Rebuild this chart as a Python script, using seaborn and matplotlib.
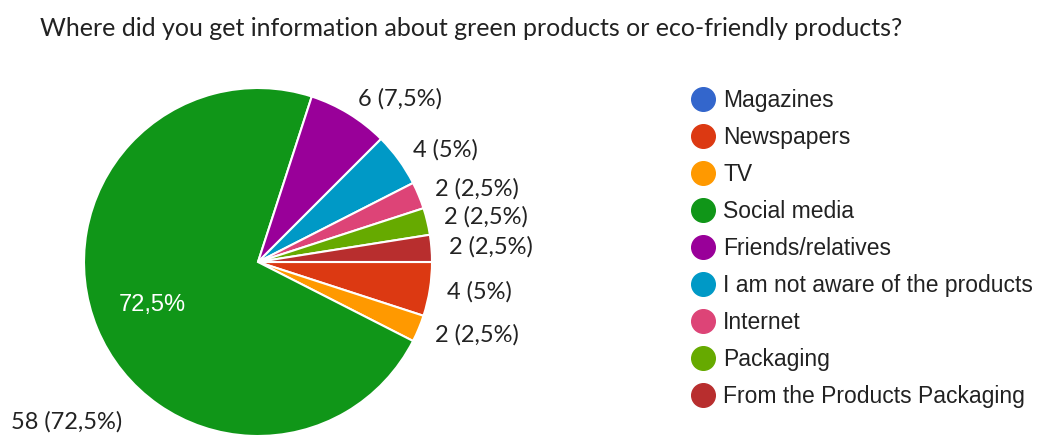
import numpy as np
import matplotlib
matplotlib.use("Agg")
import matplotlib.pyplot as plt
from matplotlib.lines import Line2D
import seaborn as sns

# Survey answers: "Where did you get information about green products?"
categories = ["Magazines", "Newspapers", "TV", "Social media", "Friends/relatives",
              "I am not aware of the products", "Internet", "Packaging",
              "From the Products Packaging"]
counts = [0, 4, 2, 58, 6, 4, 2, 2, 2]
colors = ["#3366cc", "#dc3912", "#ff9900", "#109618", "#990099",
          "#0099c6", "#dd4477", "#66aa00", "#b82e2e"]
title = "Where did you get information about green products or eco-friendly products?"

sns.set_theme(style="white")
palette = sns.color_palette(colors)
plt.rcParams["font.family"] = ["Lato", "DejaVu Sans"]

W, H = 1048, 437
fig = plt.figure(figsize=(W / 100, H / 100), dpi=100)
ax = fig.add_axes([0, 0, 1, 1])

cx, cy, r = 258, H - 262, 174
total = sum(counts)
wedges, _ = ax.pie(counts, colors=palette, startangle=0, counterclock=False,
                   center=(cx, cy), radius=r, frame=True,
                   wedgeprops=dict(edgecolor="white", linewidth=1.5))
ax.set_xlim(0, W)
ax.set_ylim(0, H)
ax.axis("off")


def pct(v):
    p = 100 * v / total
    s = f"{p:.1f}".rstrip("0").rstrip(".")
    return s.replace(".", ",") + "%"


label_kw = dict(fontsize=17, color="#222222", va="center")
for w, v in zip(wedges, counts):
    if v == 0:
        continue
    mid = np.deg2rad((w.theta1 + w.theta2) / 2)
    if v / total > 0.5:
        # inner percentage on the dominant slice
        ax.text(cx + 0.66 * r * np.cos(mid), cy + 0.64 * r * np.sin(mid), pct(v),
                color="white", fontsize=17, ha="center", va="center",
                family=["Liberation Sans", "DejaVu Sans"])
        ax.text(cx - 0.78 * r, cy - 0.92 * r, f"{v} ({pct(v)})",
                ha="right", **label_kw)
    else:
        ax.text(cx + 1.1 * r * np.cos(mid), cy + 1.1 * r * np.sin(mid),
                f"{v} ({pct(v)})", ha="left", **label_kw)

fig.text(40 / W, 1 - 28 / H, title, fontsize=18, color="#222222",
         ha="left", va="center")

handles = [Line2D([], [], marker="o", linestyle="none", markersize=17,
                  markerfacecolor=c, markeredgecolor=c) for c in palette]
leg = ax.legend(handles, categories, loc="upper left",
                bbox_to_anchor=(682 / W, 1 - 80 / H), frameon=False,
                prop=dict(family=["Liberation Sans", "DejaVu Sans"], size=16.5),
                labelspacing=0.61, handletextpad=0.4, handlelength=1.0,
                borderaxespad=0)
for t in leg.get_texts():
    t.set_color("#222222")

fig.savefig("out.png", dpi=100, facecolor="white")
